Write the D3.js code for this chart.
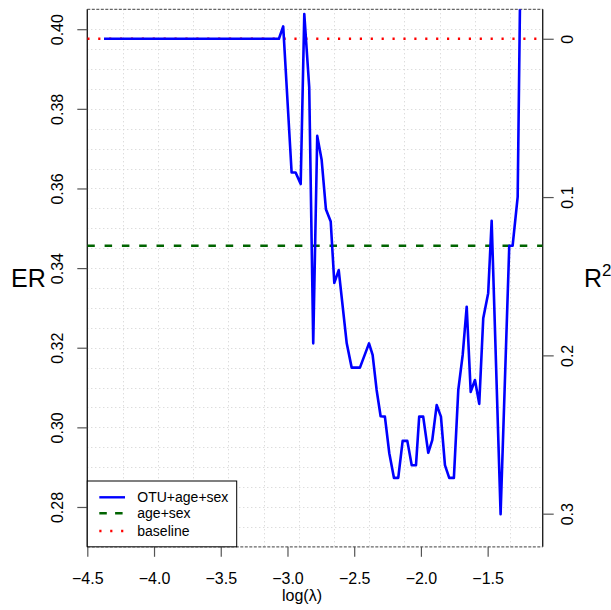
<!DOCTYPE html>
<html>
<head>
<meta charset="utf-8">
<script src="https://cdn.jsdelivr.net/npm/d3@7"></script>
<style>
  html, body { margin: 0; padding: 0; background: #fff; }
  svg { display: block; font-family: "Liberation Sans", Arial, sans-serif; }
</style>
</head>
<body>
<svg id="chart" width="611" height="610"></svg>
<script>
// ---- data ----
const logLambda = [-4.375, -3.064, -3.032, -2.969, -2.939, -2.901, -2.874, -2.837, -2.807, -2.777,
  -2.744, -2.712, -2.676, -2.649, -2.616, -2.556, -2.519, -2.457, -2.389, -2.362,
  -2.332, -2.302, -2.270, -2.237, -2.202, -2.170, -2.137, -2.102, -2.069, -2.037,
  -2.013, -1.983, -1.945, -1.915, -1.882, -1.850, -1.820, -1.788, -1.753, -1.720,
  -1.687, -1.657, -1.627, -1.595, -1.563, -1.533, -1.496, -1.470, -1.403, -1.338,
  -1.313, -1.275, -1.244];
const erOTU = [0.3976, 0.3976, 0.4007, 0.3640, 0.3640, 0.3611, 0.4038, 0.3854, 0.3211, 0.3732,
  0.3672, 0.3548, 0.3517, 0.3363, 0.3395, 0.3211, 0.3150, 0.3150, 0.3211, 0.3182,
  0.3094, 0.3028, 0.3027, 0.2935, 0.2873, 0.2873, 0.2966, 0.2966, 0.2905, 0.2905,
  0.3027, 0.3027, 0.2936, 0.2968, 0.3056, 0.3027, 0.2905, 0.2873, 0.2873, 0.3094,
  0.3182, 0.3303, 0.3089, 0.3119, 0.3059, 0.3274, 0.3337, 0.3519, 0.2782, 0.3456,
  0.3456, 0.3579, 0.445];
const erAgeSex = 0.3456;
const erBaseline = 0.3976;
const xTicks = [-4.5, -4.0, -3.5, -3.0, -2.5, -2.0, -1.5];
const yTicks = [0.28, 0.30, 0.32, 0.34, 0.36, 0.38, 0.40];
const r2Ticks = [0, 0.1, 0.2, 0.3];
const legendLabels = ["OTU+age+sex", "age+sex", "baseline"];

// ---- layout ----
const W = 611, H = 610;
const L = 87.3, R = 542.7, T = 9.3, B = 546.8;
const svg = d3.select("#chart");

const x = d3.scaleLinear().domain([-4.5, -1.0875]).range([L, R]);
const y = d3.scaleLinear().domain([0.27, 0.405]).range([B, T]);

// grid
const gridY = d3.range(0.275, 0.4025, 0.005);
const gridX = d3.range(1, 13).map(k => -4.5 + k * 0.2641).filter(v => x(v) < R - 2);
const grid = svg.append("g").attr("stroke", "#cfcfcf").attr("stroke-width", 1).attr("stroke-dasharray", "1,3");
grid.selectAll("line.gy").data(gridY).join("line")
  .attr("x1", L).attr("x2", R).attr("y1", d => Math.round(y(d)) + 0.5).attr("y2", d => Math.round(y(d)) + 0.5);
grid.selectAll("line.gx").data(gridX).join("line")
  .attr("y1", T).attr("y2", B).attr("x1", d => Math.round(x(d)) + 0.5).attr("x2", d => Math.round(x(d)) + 0.5);

// box: top/bottom dashed, left/right solid
svg.append("line").attr("x1", L).attr("x2", R).attr("y1", T).attr("y2", T)
  .attr("stroke", "#666").attr("stroke-width", 1.2).attr("stroke-dasharray", "3,1.5");
svg.append("line").attr("x1", L).attr("x2", R).attr("y1", B).attr("y2", B)
  .attr("stroke", "#666").attr("stroke-width", 1.2).attr("stroke-dasharray", "3,1.5");
svg.append("line").attr("x1", L).attr("x2", L).attr("y1", T).attr("y2", B)
  .attr("stroke", "#222").attr("stroke-width", 1.4);
svg.append("line").attr("x1", R).attr("x2", R).attr("y1", T).attr("y2", B)
  .attr("stroke", "#222").attr("stroke-width", 1.4);

// clip
svg.append("clipPath").attr("id", "clip").append("rect")
  .attr("x", L).attr("y", T).attr("width", R - L).attr("height", B - T);

const plot = svg.append("g").attr("clip-path", "url(#clip)");

// reference lines
plot.append("line").attr("x1", L).attr("x2", R).attr("y1", y(erAgeSex)).attr("y2", y(erAgeSex))
  .attr("stroke", "#006400").attr("stroke-width", 2.4).attr("stroke-dasharray", "7.5,9.8");
plot.append("line").attr("x1", L).attr("x2", R).attr("y1", y(erBaseline)).attr("y2", y(erBaseline))
  .attr("stroke", "#ff0000").attr("stroke-width", 2.4).attr("stroke-dasharray", "2.2,8.7");

// main line
const pts = logLambda.map((v, i) => [v, erOTU[i]]);
plot.append("path").datum(pts)
  .attr("fill", "none").attr("stroke", "#0000ff").attr("stroke-width", 2.6)
  .attr("stroke-linejoin", "round")
  .attr("d", d3.line().x(d => x(d[0])).y(d => y(d[1])));

// axes
const fmt2 = d3.format(".2f");
const minus = s => s.replace("-", "\u2212");

const xAxis = svg.append("g").attr("transform", `translate(0,${B})`)
  .call(d3.axisBottom(x).tickValues(xTicks).tickSize(10).tickSizeOuter(0).tickPadding(14)
        .tickFormat(d => minus(d.toFixed(1))));
xAxis.select(".domain").remove();
xAxis.selectAll("line").attr("stroke", "#555").attr("stroke-width", 1.2);
xAxis.selectAll("text").attr("font-size", 16).attr("fill", "#000").attr("font-family", "Liberation Sans, Arial, sans-serif")
  .attr("dy", null).attr("y", 37.5);

const yAxis = svg.append("g").attr("transform", `translate(${L},0)`)
  .call(d3.axisLeft(y).tickValues(yTicks).tickSize(10).tickSizeOuter(0).tickFormat(fmt2));
yAxis.select(".domain").remove();
yAxis.selectAll("line").attr("stroke", "#555").attr("stroke-width", 1.2);
yAxis.selectAll("text").attr("font-size", 16).attr("fill", "#000").attr("font-family", "Liberation Sans, Arial, sans-serif")
  .attr("x", null).attr("dy", null)
  .attr("text-anchor", "middle")
  .attr("transform", "translate(-24.5,0) rotate(-90)");

// right axis: R^2 = 1 - ER/baseline
const r2ToY = r => y(erBaseline * (1 - r));
const r2Scale = d3.scaleLinear().domain([0, 1]).range([r2ToY(0), r2ToY(1)]);
const rAxis = svg.append("g").attr("transform", `translate(${R},0)`)
  .call(d3.axisRight(r2Scale).tickValues(r2Ticks).tickSize(11).tickSizeOuter(0).tickFormat(d => d === 0 ? "0" : d3.format(".1f")(d)));
rAxis.select(".domain").remove();
rAxis.selectAll("line").attr("stroke", "#555").attr("stroke-width", 1.2);
rAxis.selectAll("text").attr("font-size", 16).attr("fill", "#000").attr("font-family", "Liberation Sans, Arial, sans-serif")
  .attr("x", null).attr("dy", null)
  .attr("text-anchor", "middle")
  .attr("transform", "translate(30.5,0) rotate(-90)");

// axis titles
svg.append("text").attr("x", 302).attr("y", 601).attr("text-anchor", "middle")
  .attr("font-size", 16).text("log(λ)");
svg.append("text").attr("x", 11).attr("y", 287).attr("font-size", 25).text("ER");
const r2t = svg.append("text").attr("x", 584).attr("y", 287).attr("font-size", 25);
r2t.append("tspan").text("R");
r2t.append("tspan").attr("font-size", 17).attr("dy", -11).text("2");

// legend
const lg = svg.append("g");
lg.append("rect").attr("x", L).attr("y", 481).attr("width", 236.7 - L).attr("height", B - 481)
  .attr("fill", "#fff").attr("stroke", "#000").attr("stroke-width", 1);
const legY = [497.3, 513.3, 531];
const legStyles = [
  {stroke: "#0000ff", dash: null},
  {stroke: "#006400", dash: "7.5,8.3"},
  {stroke: "#ff0000", dash: "2.2,8.7"}
];
legendLabels.forEach((lab, i) => {
  lg.append("line").attr("x1", 99.3).attr("x2", 125).attr("y1", legY[i]).attr("y2", legY[i])
    .attr("stroke", legStyles[i].stroke).attr("stroke-width", 2.4)
    .attr("stroke-dasharray", legStyles[i].dash);
  lg.append("text").attr("x", 137.3).attr("y", legY[i] + 5).attr("font-size", 14).text(lab);
});
</script>
</body>
</html>
